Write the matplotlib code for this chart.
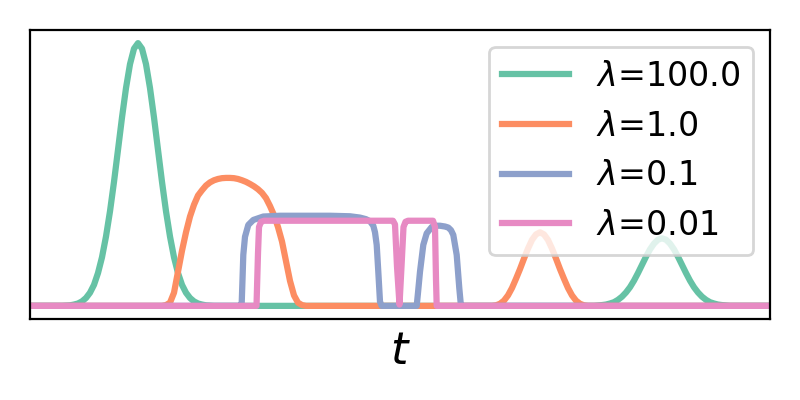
import matplotlib.pyplot as plt

# time axis (arbitrary units) and smoothed signals for each lambda
green_t = [0, 3.2, 3.6, 4.0, 4.4, 4.8, 5.2, 5.6, 6.0, 6.4, 6.8, 7.2, 7.6, 8.0, 8.4, 8.8, 9.2, 9.6, 10.0, 10.4,
           10.8, 11.2, 11.6, 12.0, 12.4, 12.8, 13.2, 13.6, 14.0, 14.4, 14.8, 15.2, 15.6, 16.0, 16.4, 16.8, 17.2,
           17.6, 18.0, 18.4,
           56.4, 56.8, 57.2, 57.6, 58.0, 58.4, 58.8, 59.2, 59.6, 60.0, 60.4, 60.8, 61.2, 61.6, 62.0, 62.4, 62.8,
           63.2, 63.6, 64.0, 64.4, 64.8, 65.2, 65.6, 66.0, 66.4, 66.8, 67.2, 67.6, 68.0, 68.4, 68.8, 69.2, 69.6,
           70.0, 74]
green_y = [0, 0, 0.001, 0.002, 0.005, 0.009, 0.017, 0.030, 0.050, 0.080, 0.125, 0.185, 0.264, 0.360, 0.472,
           0.594, 0.717, 0.829, 0.920, 0.979,
           1.0, 0.979, 0.920, 0.829, 0.717, 0.594, 0.472, 0.360, 0.264, 0.185, 0.125, 0.080, 0.050, 0.030, 0.017,
           0.009, 0.005, 0.002, 0.001, 0,
           0, 0.0015, 0.003, 0.005, 0.009, 0.014, 0.023, 0.035, 0.051, 0.071, 0.096, 0.125, 0.156, 0.187, 0.215,
           0.237, 0.252,
           0.257, 0.252, 0.237, 0.215, 0.187, 0.156, 0.125, 0.096, 0.071, 0.051, 0.035, 0.023, 0.014, 0.009,
           0.005, 0.003, 0.0015, 0, 0]

orange_t = [0, 13.2, 13.6, 14.0, 14.4, 14.8, 15.2, 15.6, 16.0, 16.4, 16.8, 17.2, 17.6, 18.0, 18.4, 18.8, 19.2,
            19.6, 20.0, 20.4, 20.8, 21.2, 21.6, 22.0, 22.4, 22.8, 23.2, 23.6, 24.0, 24.4, 24.8, 25.2, 25.6, 26.0,
            26.4, 26.8, 27.2, 27.6,
            46.2, 46.6, 47.0, 47.4, 47.8, 48.2, 48.6, 49.0, 49.4, 49.8, 50.2, 50.6, 51.0, 51.4, 51.8, 52.2, 52.6,
            53.0, 53.4, 53.8, 54.2, 54.6, 55.0, 55.4, 55.8, 74]
orange_y = [0, 0, 0.003, 0.012, 0.05, 0.13, 0.21, 0.28, 0.34, 0.385, 0.42, 0.44, 0.458, 0.47, 0.478, 0.483,
            0.486, 0.487, 0.487, 0.486, 0.483, 0.478, 0.472, 0.464, 0.455, 0.444, 0.43, 0.41, 0.38, 0.345, 0.30,
            0.245, 0.17, 0.095, 0.04, 0.012, 0.003, 0,
            0, 0.002, 0.008, 0.020, 0.040, 0.068, 0.103, 0.140, 0.180, 0.218, 0.251, 0.272, 0.28, 0.272, 0.251,
            0.218, 0.180, 0.140, 0.103, 0.068, 0.040, 0.020, 0.008, 0.002, 0, 0]

blue_t = [0, 21.0, 21.17, 21.25, 21.33, 21.5, 21.83, 22.33, 23.33, 25.0, 30.0, 32.0, 33.0, 33.6, 34.0, 34.33,
          34.5, 34.67, 34.83, 35.0, 35.17,
          38.67, 38.8, 39.0, 39.33, 39.67, 40.17, 40.6, 41.0, 41.5, 41.83, 42.1, 42.33, 42.67, 42.93, 43.07,
          43.2, 74]
blue_y = [0, 0, 0.01, 0.1, 0.194, 0.263, 0.308, 0.327, 0.340, 0.343, 0.343, 0.341, 0.336, 0.330, 0.322, 0.305,
          0.28, 0.232, 0.13, 0.016, 0,
          0, 0.05, 0.13, 0.232, 0.276, 0.30, 0.305, 0.305, 0.302, 0.298, 0.288, 0.27, 0.194, 0.067, 0.01,
          0, 0]

pink_t = [0, 22.65, 22.8, 22.9, 23.1, 23.4, 36.3, 36.5, 36.7, 36.95, 37.15, 37.35, 37.55, 37.8, 40.3, 40.5,
          40.6, 40.67, 74]
pink_y = [0, 0, 0.2, 0.30, 0.320, 0.324, 0.324, 0.31, 0.15, 0.005, 0.15, 0.30, 0.320, 0.324, 0.324, 0.30,
          0.1, 0, 0]

labels = [r'$\lambda$=100.0', r'$\lambda$=1.0', r'$\lambda$=0.1', r'$\lambda$=0.01']
colors = ['#66c2a5', '#fc8d62', '#8da0cb', '#e78ac3']

fig = plt.figure(figsize=(4, 2), dpi=200)
ax = fig.add_axes([0.0375, 0.2025, 0.925, 0.7225])

series = [(green_t, green_y), (orange_t, orange_y), (blue_t, blue_y), (pink_t, pink_y)]
for (t, y), lab, c in zip(series, labels, colors):
    ax.plot(t, y, color=c, lw=2.25, label=lab)

ax.set_xlim(0, 74)
ax.set_ylim(-0.05, 1.05)
ax.set_xticks([])
ax.set_yticks([])
ax.set_xlabel('$t$', fontsize=16)
ax.legend(loc='upper right', fontsize=12, handlelength=2.0)

fig.savefig('out.png', dpi=200)
